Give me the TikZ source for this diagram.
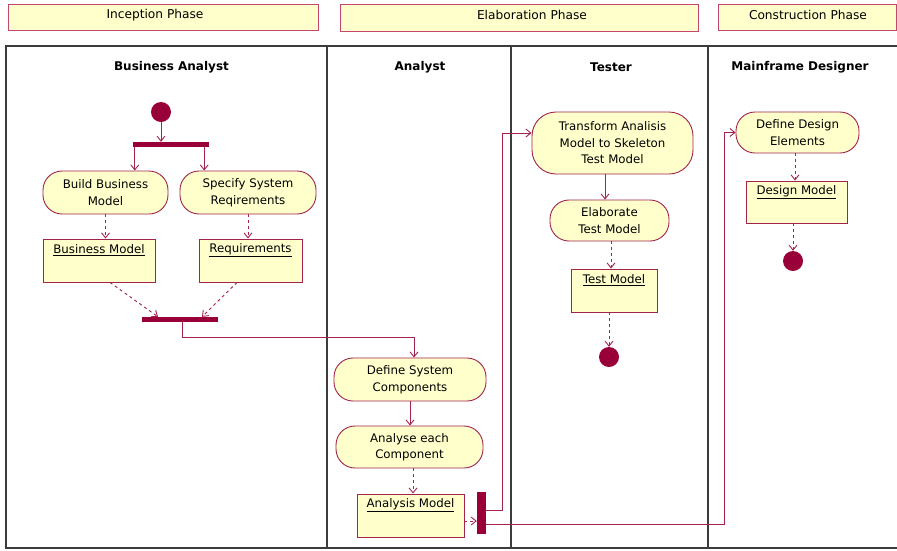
\documentclass[tikz,border=0pt]{standalone}
\usepackage{fontspec}
\setmainfont{DejaVu Sans}
\usetikzlibrary{arrows.meta,calc}
\definecolor{actfill}{HTML}{FFFFCC}
\definecolor{actline}{HTML}{A3234F}
\definecolor{barcol}{HTML}{99003A}
\definecolor{lanecol}{HTML}{3C3C3C}
\definecolor{phaseline}{HTML}{C2466E}
\begin{document}
\begin{tikzpicture}[x=1pt,y=-1pt,
  every node/.style={font=\fontsize{11.8}{16.5}\selectfont},
  action/.style={draw=actline, fill=actfill, line width=0.9pt, rounded corners=19pt, align=center, inner sep=0pt},
  objbox/.style={draw=actline, fill=actfill, line width=0.9pt, inner sep=0pt},
  objtitle/.style={inner sep=0pt, anchor=center},
  syncbar/.style={fill=barcol, draw=none, inner sep=0pt},
  dot/.style={circle, fill=barcol, inner sep=0pt, minimum size=20pt},
  phasebox/.style={draw=phaseline, fill=actfill, line width=1pt, inner sep=0pt},
  phaselabel/.style={font=\fontsize{12.2}{14}\selectfont},
  flow/.style={draw=actline, line width=0.9pt, -{Straight Barb[length=5pt,width=8pt]}},
  dep/.style={flow, dash pattern=on 3pt off 3pt},
  lanehead/.style={font=\fontsize{12}{14}\selectfont\bfseries},
  laneline/.style={draw=lanecol, line width=1.2pt}]
\useasboundingbox (0,0) rectangle (897,550);
\fill[white] (0,0) rectangle (897,550);

% phases
\node[phasebox, minimum width=310pt, minimum height=26pt] (pin) at (163,17) {};
\node[phaselabel] (pinl) at (155,15) {Inception Phase};
\node[phasebox, minimum width=358pt, minimum height=27pt] (pel) at (519,17.5) {};
\node[phaselabel] (pell) at (532,15) {Elaboration Phase};
\node[phasebox, minimum width=178pt, minimum height=26pt] (pco) at (807,17) {};
\node[phaselabel] (pcol) at (808,15) {Construction Phase};

% swimlanes
\draw[laneline] (897,46) -- (6,46) -- (6,548) -- (897,548);
\draw[laneline] (327,46) -- (327,548);
\draw[laneline] (511,46) -- (511,548);
\draw[laneline] (708,46) -- (708,548);
\node[lanehead] (hba) at (171.5,67) {Business Analyst};
\node[lanehead] (han) at (420,67) {Analyst};
\node[lanehead] (hte) at (611,67) {Tester};
\node[lanehead] (hmd) at (800,67) {Mainframe Designer};

% Business Analyst lane
\node[dot] (start) at (161,112) {};
\node[syncbar, minimum width=76pt, minimum height=5pt] (fork1) at (171,144.5) {};
\node[action, minimum width=125pt, minimum height=43pt] (build) at (105.5,192.5) {Build Business\\Model};
\node[action, minimum width=136pt, minimum height=43pt] (spec) at (248,192.5) {Specify System\\Reqirements};
\node[objbox, minimum width=112pt, minimum height=43pt] (bm) at (99,260.5) {};
\node[objtitle] (bmt) at ($(bm.north)+(0,12)$) {\underline{Business Model}};
\node[objbox, minimum width=103pt, minimum height=43pt] (req) at (250.5,260.5) {};
\node[objtitle] (reqt) at ($(req.north)+(0,12)$) {\underline{Requirements}};
\node[syncbar, minimum width=76pt, minimum height=5pt] (join1) at (180,319.5) {};

% Analyst lane
\node[action, minimum width=152pt, minimum height=43pt] (dsc) at (410,379.5) {Define System\\Components};
\node[action, minimum width=147pt, minimum height=42pt] (aec) at (409.5,447) {Analyse each\\Component};
\node[objbox, minimum width=107pt, minimum height=43pt] (am) at (410.5,515.5) {};
\node[objtitle] (amt) at ($(am.north)+(0,12)$) {\underline{Analysis Model}};
\node[syncbar, minimum width=9pt, minimum height=42pt] (fork2) at (481.5,513) {};

% Tester lane
\node[action, rounded corners=24pt, minimum width=161pt, minimum height=62pt] (trans) at (612.5,143) {Transform Analisis\\Model to Skeleton\\Test Model};
\node[action, minimum width=119pt, minimum height=41pt] (elab) at (609.5,220.5) {Elaborate\\Test Model};
\node[objbox, minimum width=86pt, minimum height=43pt] (tm) at (614,290.5) {};
\node[objtitle] (tmt) at ($(tm.north)+(0,12)$) {\underline{Test Model}};
\node[dot] (end1) at (609,357) {};

% Mainframe Designer lane
\node[action, minimum width=123pt, minimum height=41pt] (dde) at (797.5,132.5) {Define Design\\Elements};
\node[objbox, minimum width=101pt, minimum height=42pt] (dm) at (796.5,202) {};
\node[objtitle] (dmt) at ($(dm.north)+(0,12)$) {\underline{Design Model}};
\node[dot] (end2) at (793,261) {};

% control flows
\draw[flow] (start) -- (start |- fork1.north);
\coordinate (f1l) at ($(fork1.south west)+(2,0)$);
\coordinate (f1r) at ($(fork1.south east)+(-5,0)$);
\draw[flow] (f1l) -- (f1l |- build.north);
\draw[flow] (f1r) -- (f1r |- spec.north);
\coordinate (j1o) at ($(join1.south)+(2,0)$);
\coordinate (dsci) at ($(dsc.north)+(4,0)$);
\draw[flow] (j1o) |- ($(dsci)+(0,-20)$) -- (dsci);
\draw[flow] (dsc.south) -- (dsc.south |- aec.north);
\coordinate (f2a) at ($(fork2.east)+(0,-3)$);
\coordinate (f2b) at ($(fork2.east)+(0,11.5)$);
\coordinate (transi) at ($(trans.west)+(0,-10)$);
\draw[flow] (f2a) -- (502,510) |- (transi);
\draw[flow] (f2b) -- (724,524.5) |- (dde.west);
\coordinate (transo) at ($(trans.south)+(-7.5,0)$);
\draw[flow] (transo) -- (transo |- elab.north);

% object flows
\draw[dep] (build.south) -- (build.south |- bm.north);
\draw[dep] (spec.south) -- (spec.south |- req.north);
\draw[dep] ($(bm.south)+(11,0)$) -- ($(join1.north)+(-22,0)$);
\draw[dep] ($(req.south)+(-13.5,0)$) -- ($(join1.north)+(22,0)$);
\coordinate (aeco) at ($(aec.south)+(3.5,0)$);
\draw[dep] (aeco) -- (aeco |- am.north);
\coordinate (amo) at ($(am.east)+(0,5.5)$);
\draw[dep] (amo) -- (amo -| fork2.west);
\coordinate (elabo) at ($(elab.south)+(1.5,0)$);
\draw[dep] (elabo) -- (elabo |- tm.north);
\coordinate (tmo) at ($(tm.south)+(-5,0)$);
\draw[dep] (tmo) -- (tmo |- end1.north);
\coordinate (ddeo) at ($(dde.south)+(-2.5,0)$);
\draw[dep] (ddeo) -- (ddeo |- dm.north);
\coordinate (dmo) at ($(dm.south)+(-3.5,0)$);
\draw[dep] (dmo) -- (dmo |- end2.north);
\end{tikzpicture}
\end{document}
